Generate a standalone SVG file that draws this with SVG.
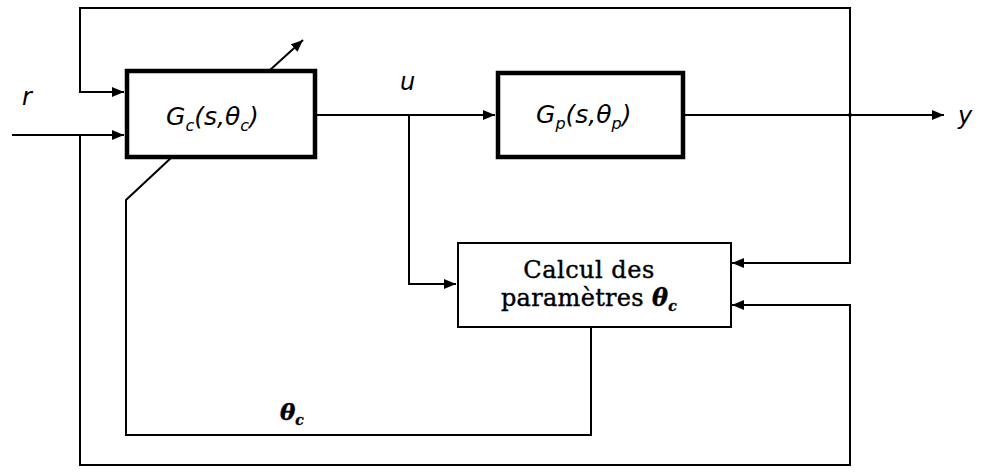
<svg xmlns="http://www.w3.org/2000/svg" width="1004" height="475" viewBox="0 0 1004 475">
<style>
.ln{fill:none;stroke:#000;stroke-width:2}
.thick{fill:#fff;stroke:#000;stroke-width:4.5}
.thin{fill:#fff;stroke:#000;stroke-width:2}
.it{font-family:"DejaVu Sans","Liberation Sans",sans-serif;font-style:italic;fill:#000}
.sf{font-family:"DejaVu Serif","Liberation Serif",serif;fill:#000;stroke:#000;stroke-width:0.4}
</style>
<defs>
<marker id="ah" viewBox="0 0 12 10" refX="12" refY="5" markerWidth="12" markerHeight="10" markerUnits="userSpaceOnUse" orient="auto">
<path d="M0,0 L12,5 L0,10 Z" fill="#000"/>
</marker>
</defs>
<rect width="1004" height="475" fill="#fff"/>
<g id="connectors">
<path class="ln" d="M850,115 L850,8 L80,8 L80,92 L124,92" marker-end="url(#ah)"/>
<path class="ln" d="M12,135 L124,135" marker-end="url(#ah)"/>
<path class="ln" d="M80,135 L80,465 L850,465 L850,305 L732,305" marker-end="url(#ah)"/>
<path class="ln" d="M316,115 L495,115" marker-end="url(#ah)"/>
<path class="ln" d="M409,115 L409,284 L456,284" marker-end="url(#ah)"/>
<path class="ln" d="M684,115 L944,115" marker-end="url(#ah)"/>
<path class="ln" d="M850,115 L850,263 L732,263" marker-end="url(#ah)"/>
<circle cx="850" cy="115" r="2" fill="#000"/>
<path class="ln" d="M591,328 L591,435 L126,435 L126,200 L172,157"/>
<path class="ln" d="M270,70 L303,40" marker-end="url(#ah)"/>
</g>
<g id="Gc">
<rect class="thick" x="127" y="71" width="188" height="86"/>
<text class="it" x="166" y="125" font-size="25">G<tspan font-size="16" dy="6">c</tspan><tspan dy="-6">(s,θ</tspan><tspan font-size="16" dy="6">c</tspan><tspan dy="-6">)</tspan></text>
</g>
<g id="Gp">
<rect class="thick" x="498" y="73" width="185" height="84"/>
<text class="it" x="536" y="123" font-size="25">G<tspan font-size="16" dy="6">p</tspan><tspan dy="-6">(s,θ</tspan><tspan font-size="16" dy="6">p</tspan><tspan dy="-6">)</tspan></text>
</g>
<g id="calcul">
<rect class="thin" x="458" y="243" width="273" height="84"/>
<text class="sf" x="589" y="278" font-size="24" text-anchor="middle" letter-spacing="0.5">Calcul des</text>
<text class="sf" x="589" y="306" font-size="24" text-anchor="middle" letter-spacing="0.3">paramètres <tspan font-weight="bold" font-style="italic">θ</tspan><tspan font-weight="bold" font-style="italic" font-size="14" dy="5">c</tspan></text>
</g>
<g id="labels">
<text class="it" x="22" y="105" font-size="24">r</text>
<text class="it" x="400" y="90" font-size="24">u</text>
<text class="it" x="958" y="124" font-size="24">y</text>
<text class="sf" x="280" y="420" font-size="23" font-weight="bold" font-style="italic">θ<tspan font-size="14" dy="5">c</tspan></text>
</g>
</svg>
